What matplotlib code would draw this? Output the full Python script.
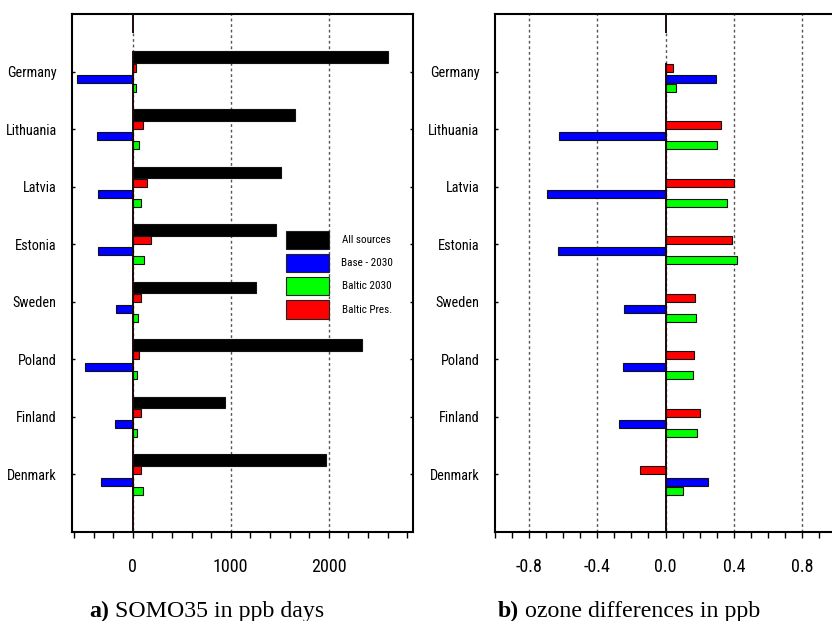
import matplotlib
matplotlib.use("Agg")
import matplotlib.pyplot as plt
from matplotlib.patches import Rectangle
from matplotlib.ticker import MultipleLocator, FixedLocator, FormatStrFormatter

plt.rcParams['font.family'] = ['Roboto Condensed', 'Liberation Sans', 'DejaVu Sans']
plt.rcParams['axes.unicode_minus'] = False

countries = ['Germany', 'Lithuania', 'Latvia', 'Estonia', 'Sweden', 'Poland', 'Finland', 'Denmark']

# SOMO35 (ppb days)
somo_all = [2600, 1660, 1510, 1465, 1260, 2340, 940, 1975]
somo_base = [-565, -360, -350, -350, -173, -483, -177, -327]
somo_b2030 = [30, 68, 88, 119, 58, 48, 48, 102]
somo_bpres = [30, 109, 146, 184, 82, 65, 85, 88]

# ozone differences (ppb)
o3_base = [0.297, -0.626, -0.695, -0.630, -0.244, -0.250, -0.270, 0.250]
o3_b2030 = [0.062, 0.299, 0.361, 0.416, 0.180, 0.160, 0.185, 0.100]
o3_bpres = [0.043, 0.326, 0.400, 0.390, 0.170, 0.168, 0.200, -0.148]

legend_labels = ['All sources', 'Base - 2030', 'Baltic 2030', 'Baltic Pres.']
legend_colors = ['#000000', '#0000ff', '#00ff00', '#ff0000']

pos = list(range(1, len(countries) + 1))


def bars(ax, vals, off, h, color):
    ax.barh([p + off for p in pos], vals, height=h, color=color,
            edgecolor='#111111', linewidth=0.8, zorder=3)


def style(ax, xlim, major, minor, fmt):
    ax.set_xlim(*xlim)
    ax.set_ylim(9, 0)
    for s in ax.spines.values():
        s.set_linewidth(1.5)
    ax.set_yticks(pos)
    ax.set_yticklabels(countries, fontsize=10.3)
    ax.tick_params(axis='y', direction='in', length=2, width=1,
                   left=True, right=True, pad=11)
    ax.xaxis.set_major_locator(FixedLocator(major))
    ax.xaxis.set_minor_locator(MultipleLocator(minor))
    ax.xaxis.set_major_formatter(FormatStrFormatter(fmt))
    ax.tick_params(axis='x', which='both', direction='out', length=4.5,
                   width=1, top=False, labelsize=13, pad=14)
    # zero line: solid at top, dotted gap, solid through the bars
    ax.vlines(0, 0, 0.33, color='#1a0a0a', lw=1.4, zorder=4)
    ax.vlines(0, 0.33, 9, color='#555555', lw=1, ls=(0, (2, 2)), zorder=1)


fig = plt.figure(figsize=(8.32, 6.21), dpi=100)

# panel a
ax1 = fig.add_axes([0.0865, 0.1433, 0.4099, 0.8341])
style(ax1, (-620, 2860), [0, 1000, 2000], 200, '%d')
for g in (1000, 2000):
    ax1.axvline(g, color='#555555', lw=1, ls=(0, (2, 2)), zorder=1)
ax1.vlines(0, 0.65, 9, color='#1a0a0a', lw=1.4, zorder=4)
bars(ax1, somo_all, -0.25, 0.2, '#000000')
bars(ax1, somo_bpres, -0.07, 0.14, '#ff0000')
bars(ax1, somo_base, 0.125, 0.14, '#0000ff')
bars(ax1, somo_b2030, 0.28, 0.14, '#00ff00')

# legend keys
for i, (lab, col) in enumerate(zip(legend_labels, legend_colors)):
    y0 = 0.547 - i * 0.045
    ax1.add_patch(Rectangle((0.6276, y0), 0.125, 0.035, transform=ax1.transAxes,
                            facecolor=col, edgecolor='#222222', lw=0.8, zorder=5))
    ax1.text(0.864, y0 + 0.0175, lab, transform=ax1.transAxes, fontsize=8,
             ha='center', va='center', zorder=5)

# panel b
ax2 = fig.add_axes([0.5946, 0.1433, 0.4106, 0.8341])
style(ax2, (-1.0, 1.0), [-0.8, -0.4, 0.0, 0.4, 0.8], 0.1, '%.1f')
for g in (-0.8, -0.4, 0.4, 0.8):
    ax2.axvline(g, color='#555555', lw=1, ls=(0, (2, 2)), zorder=1)
ax2.vlines(0, 0.85, 9, color='#1a0a0a', lw=1.4, zorder=4)
bars(ax2, o3_bpres, -0.07, 0.14, '#ff0000')
bars(ax2, o3_base, 0.125, 0.14, '#0000ff')
bars(ax2, o3_b2030, 0.28, 0.14, '#00ff00')

# captions
serif = ['Liberation Serif', 'DejaVu Serif']
fig.text(0.1316, 0.007, 'a)', family=serif, fontsize=17.2, fontweight='bold',
         ha='right', va='baseline')
fig.text(0.1316, 0.007, ' SOMO35 in ppb days', family=serif, fontsize=17.2,
         ha='left', va='baseline')
fig.text(0.6232, 0.007, 'b)', family=serif, fontsize=17.2, fontweight='bold',
         ha='right', va='baseline')
fig.text(0.6232, 0.007, ' ozone differences in ppb', family=serif, fontsize=17.2,
         ha='left', va='baseline')

fig.savefig('out.png', dpi=100)
